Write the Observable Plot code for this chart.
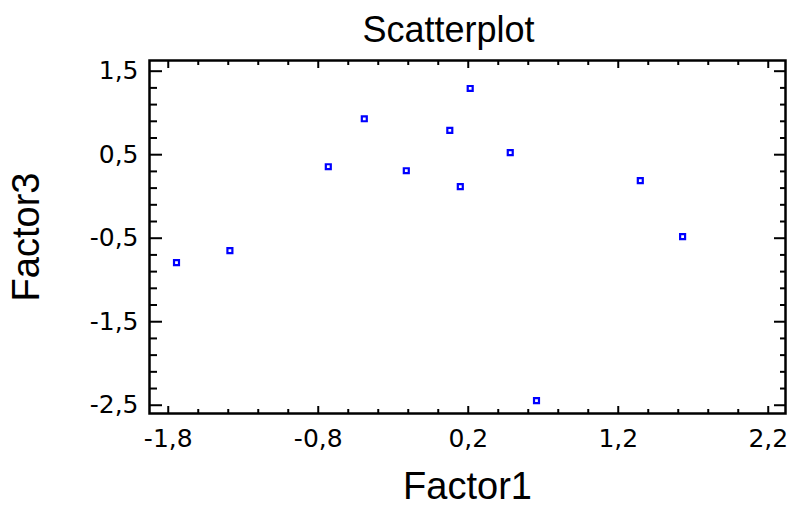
<!DOCTYPE html>
<html>
<head>
<meta charset="utf-8">
<script src="https://cdn.jsdelivr.net/npm/d3@7"></script>
<script src="https://cdn.jsdelivr.net/npm/@observablehq/plot@0.6"></script>
<style>
  html, body { margin: 0; padding: 0; background: #fff; }
  #chart svg { display: block; }
  #chart svg g[aria-label="x-axis tick label"], #chart svg g[aria-label="y-axis tick label"] { font-family: 'DejaVu Sans', sans-serif; }
</style>
</head>
<body>
<div id="chart"></div>
<script>
// Data
const factor1 = [-1.745, -1.389, -0.733, -0.493, -0.213, 0.077, 0.147, 0.213, 0.480, 1.347, 1.629, 0.655];
const factor3 = [-0.792, -0.649, 0.356, 0.930, 0.308, 0.791, 0.117, 1.293, 0.524, 0.189, -0.481, -2.444];

const xTicks = [-1.8, -0.8, 0.2, 1.2, 2.2];
const yTicks = [1.5, 0.5, -0.5, -1.5, -2.5];
const xMinor = d3.range(0, 21).map(i => +(-1.8 + i * 0.2).toFixed(1)).filter(v => !xTicks.includes(v));
const yMinor = d3.range(0, 21).map(i => +(-2.5 + i * 0.2).toFixed(1)).filter(v => !yTicks.includes(v));

const title = "Scatterplot";
const xLabel = "Factor1";
const yLabel = "Factor3";

const points = factor1.map((x, i) => ({x, y: factor3[i]}));
const fmt = d => d.toFixed(1).replace(".", ",");
const font = "'Liberation Sans', Arial, sans-serif";

const chart = Plot.plot({
  width: 789,
  height: 507,
  marginLeft: 149,
  marginRight: 4,
  marginTop: 60,
  marginBottom: 94,
  style: {fontFamily: font, background: "#fff", color: "#000", overflow: "visible"},
  x: {domain: [-1.925, 2.315]},
  y: {domain: [-2.599, 1.628]},
  marks: [
    // tick labels
    Plot.axisX(xTicks, {anchor: "bottom", tickSize: 0, tickPadding: 16, tickFormat: fmt, fontSize: 25, label: null}),
    Plot.axisY(yTicks, {anchor: "left", tickSize: 0, tickPadding: 11, tickFormat: fmt, fontSize: 25, label: null}),
    // inward ticks
    Plot.axisX(xTicks, {anchor: "bottom", tickSize: -7, strokeWidth: 2, fill: "none", label: null}),
    Plot.axisX(xMinor, {anchor: "bottom", tickSize: -4, strokeWidth: 2, fill: "none", label: null}),
    Plot.axisX(xTicks, {anchor: "top", tickSize: -7, strokeWidth: 2, fill: "none", label: null}),
    Plot.axisX(xMinor, {anchor: "top", tickSize: -4, strokeWidth: 2, fill: "none", label: null}),
    Plot.axisY(yTicks, {anchor: "left", tickSize: -13, strokeWidth: 2, fill: "none", label: null}),
    Plot.axisY(yMinor, {anchor: "left", tickSize: -8, strokeWidth: 2, fill: "none", label: null}),
    Plot.axisY(yTicks, {anchor: "right", tickSize: -12, strokeWidth: 2, fill: "none", label: null}),
    Plot.axisY(yMinor, {anchor: "right", tickSize: -6, strokeWidth: 2, fill: "none", label: null}),
    Plot.frame({stroke: "#000", strokeWidth: 2.5}),
    Plot.dot(points, {x: "x", y: "y", symbol: "square", r: 2.8, stroke: "#0000ff", strokeWidth: 2.2, fill: "none"}),
    // titles
    Plot.text([title], {frameAnchor: "top", dx: -19, dy: -30, lineAnchor: "middle", textAnchor: "middle", fontSize: 36, fill: "#000"}),
    Plot.text([xLabel], {frameAnchor: "bottom", dy: 73, lineAnchor: "middle", textAnchor: "middle", fontSize: 38, fill: "#000"}),
    Plot.text([yLabel], {frameAnchor: "left", dx: -123, rotate: -90, lineAnchor: "middle", textAnchor: "middle", fontSize: 38, fill: "#000"})
  ]
});
document.getElementById("chart").appendChild(chart);
</script>
</body>
</html>
